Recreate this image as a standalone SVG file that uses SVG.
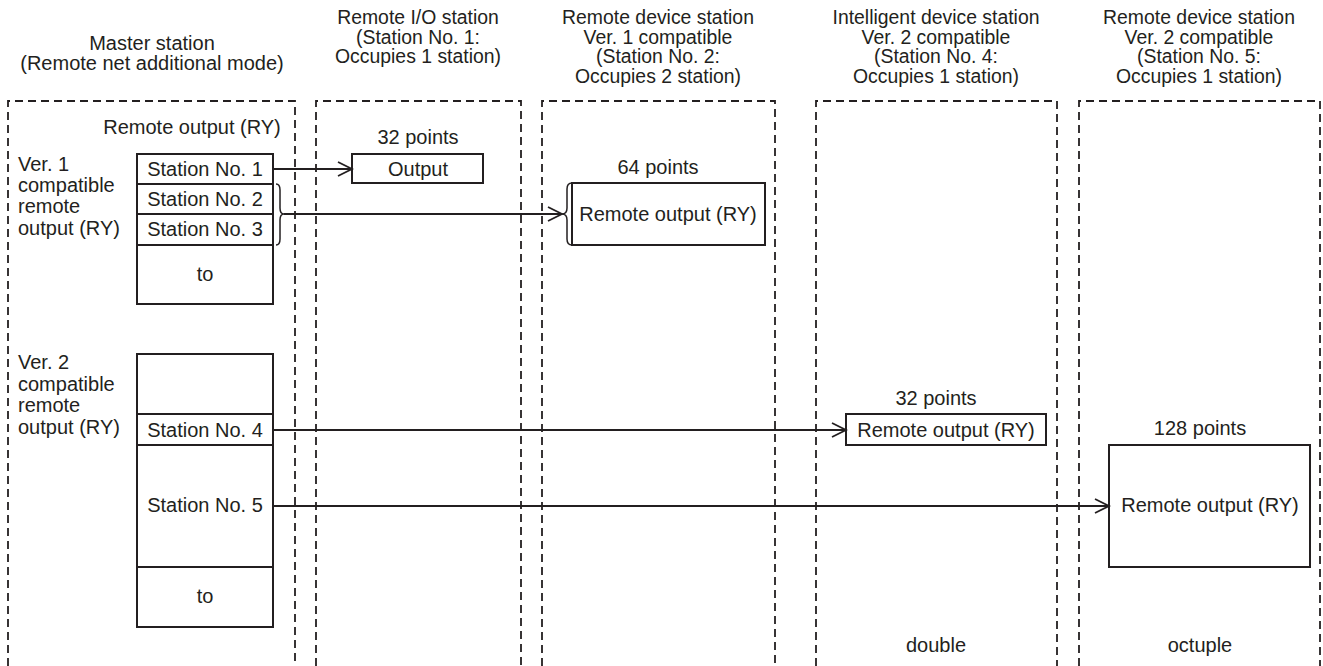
<svg xmlns="http://www.w3.org/2000/svg" width="1323" height="666" viewBox="0 0 1323 666">
<style>
text{font-family:"Liberation Sans",Arial,sans-serif;font-size:20px;fill:#231f20}
.c{text-anchor:middle}
.h{font-size:19.4px}
.col{fill:none;stroke:#231f20;stroke-width:1.8;stroke-dasharray:8 5}
.box{fill:#fff;stroke:#231f20;stroke-width:2}
.ln{fill:none;stroke:#231f20;stroke-width:1.8}
.br{fill:none;stroke:#231f20;stroke-width:1.5}
</style>
<defs>
<marker id="arr" markerUnits="userSpaceOnUse" markerWidth="18" markerHeight="18" viewBox="0 0 18 18" refX="16" refY="9" orient="auto">
<path d="M2,2 L16,9 L2,16" fill="none" stroke="#231f20" stroke-width="1.8"/>
</marker>
</defs>
<g id="col-master">
<path class="col" d="M8,666 V101 H295 V666"/>
<text class="c" x="152" y="50">Master station</text>
<text class="c" x="152" y="70">(Remote net additional mode)</text>
<text class="c" x="192" y="134">Remote output (RY)</text>
<text x="18" y="171">Ver. 1</text>
<text x="18" y="192">compatible</text>
<text x="18" y="213">remote</text>
<text x="18" y="235">output (RY)</text>
<text x="18" y="369">Ver. 2</text>
<text x="18" y="391">compatible</text>
<text x="18" y="412">remote</text>
<text x="18" y="434">output (RY)</text>
</g>
<g id="master-ver1">
<rect class="box" x="137" y="154" width="136" height="150"/>
<line class="ln" x1="137" y1="184" x2="274" y2="184"/>
<line class="ln" x1="137" y1="214" x2="274" y2="214"/>
<line class="ln" x1="137" y1="245" x2="274" y2="245"/>
<text class="c" x="205" y="176">Station No. 1</text>
<text class="c" x="205" y="206">Station No. 2</text>
<text class="c" x="205" y="236">Station No. 3</text>
<text class="c" x="205" y="281">to</text>
</g>
<g id="master-ver2">
<rect class="box" x="137" y="354" width="136" height="273"/>
<line class="ln" x1="137" y1="414" x2="274" y2="414"/>
<line class="ln" x1="137" y1="445" x2="274" y2="445"/>
<line class="ln" x1="137" y1="567" x2="274" y2="567"/>
<text class="c" x="205" y="437">Station No. 4</text>
<text class="c" x="205" y="512">Station No. 5</text>
<text class="c" x="205" y="603">to</text>
</g>
<g id="col-remote-io">
<path class="col" d="M316,666 V101 H521 V666"/>
<text class="c h" x="418" y="24">Remote I/O station</text>
<text class="c h" x="418" y="43.5">(Station No. 1:</text>
<text class="c h" x="418" y="63">Occupies 1 station)</text>
<text class="c" x="418" y="144">32 points</text>
<rect class="box" x="352" y="154" width="131" height="29"/>
<text class="c" x="418" y="176">Output</text>
</g>
<g id="col-remote-dev1">
<path class="col" d="M542,666 V101 H775 V666"/>
<text class="c h" x="658" y="24">Remote device station</text>
<text class="c h" x="658" y="43.5">Ver. 1 compatible</text>
<text class="c h" x="658" y="63">(Station No. 2:</text>
<text class="c h" x="658" y="82.5">Occupies 2 station)</text>
<text class="c" x="658" y="174">64 points</text>
<rect class="box" x="572" y="183" width="193" height="62"/>
<text class="c" x="668" y="221">Remote output (RY)</text>
</g>
<g id="col-intelligent">
<path class="col" d="M816,666 V101 H1057 V666"/>
<text class="c h" x="936" y="24">Intelligent device station</text>
<text class="c h" x="936" y="43.5">Ver. 2 compatible</text>
<text class="c h" x="936" y="63">(Station No. 4:</text>
<text class="c h" x="936" y="82.5">Occupies 1 station)</text>
<text class="c" x="936" y="405">32 points</text>
<rect class="box" x="846" y="414" width="200" height="31"/>
<text class="c" x="946" y="437">Remote output (RY)</text>
<text class="c" x="936" y="652">double</text>
</g>
<g id="col-remote-dev2">
<path class="col" d="M1079,666 V101 H1320 V666"/>
<text class="c h" x="1199" y="24">Remote device station</text>
<text class="c h" x="1199" y="43.5">Ver. 2 compatible</text>
<text class="c h" x="1199" y="63">(Station No. 5:</text>
<text class="c h" x="1199" y="82.5">Occupies 1 station)</text>
<text class="c" x="1200" y="435">128 points</text>
<rect class="box" x="1109" y="445" width="201" height="122"/>
<text class="c" x="1210" y="512">Remote output (RY)</text>
<text class="c" x="1200" y="652">octuple</text>
</g>
<g id="connectors">
<path class="br" d="M276,184 Q280,184 280,190 V208 Q280,214 284,214 Q280,214 280,220 V239 Q280,245 276,245"/>
<path class="br" d="M572,183 Q567,183 567,189 V208 Q567,214 562,214 Q567,214 567,220 V239 Q567,245 572,245"/>
<path class="ln" d="M273,169 H352" marker-end="url(#arr)"/>
<path class="ln" d="M284,214 H562" marker-end="url(#arr)"/>
<path class="ln" d="M273,430 H846" marker-end="url(#arr)"/>
<path class="ln" d="M273,506 H1109" marker-end="url(#arr)"/>
</g>
</svg>
